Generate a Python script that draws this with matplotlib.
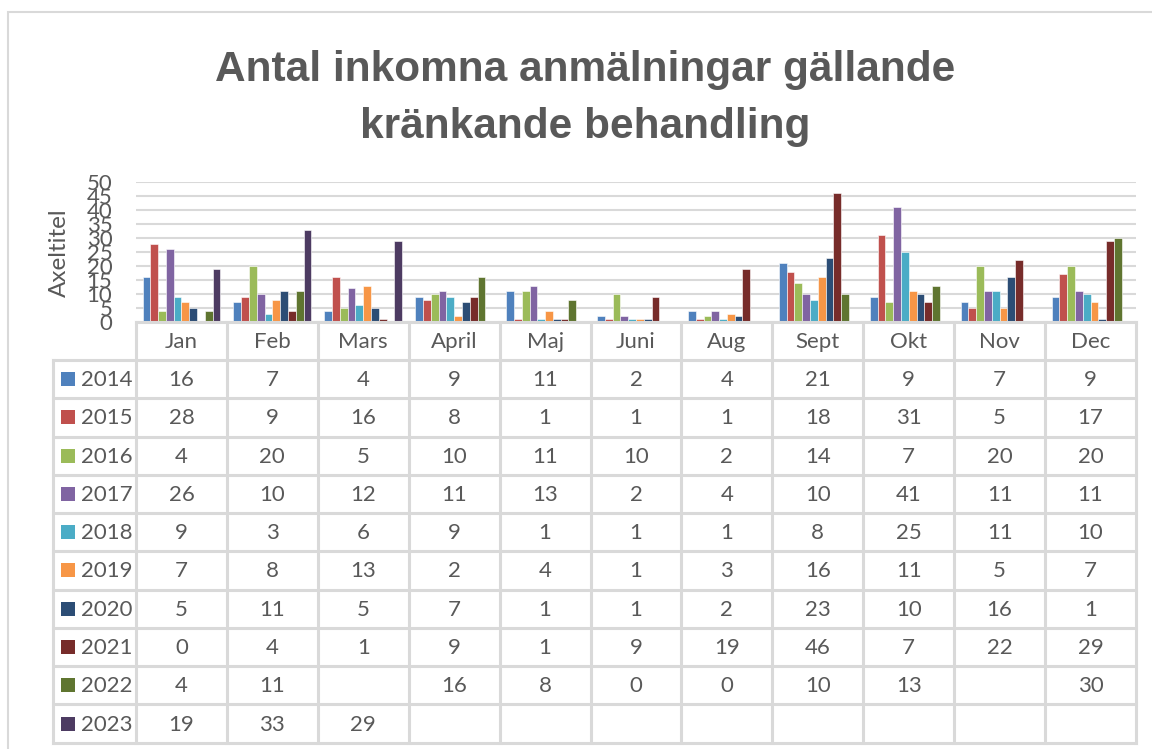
import numpy as np
import matplotlib
matplotlib.use("Agg")
import matplotlib.pyplot as plt
from matplotlib.patches import Rectangle
from matplotlib.lines import Line2D

months = ["Jan", "Feb", "Mars", "April", "Maj", "Juni", "Aug", "Sept", "Okt", "Nov", "Dec"]
years = ["2014", "2015", "2016", "2017", "2018", "2019", "2020", "2021", "2022", "2023"]
n = np.nan
v2014 = [16, 7, 4, 9, 11, 2, 4, 21, 9, 7, 9]
v2015 = [28, 9, 16, 8, 1, 1, 1, 18, 31, 5, 17]
v2016 = [4, 20, 5, 10, 11, 10, 2, 14, 7, 20, 20]
v2017 = [26, 10, 12, 11, 13, 2, 4, 10, 41, 11, 11]
v2018 = [9, 3, 6, 9, 1, 1, 1, 8, 25, 11, 10]
v2019 = [7, 8, 13, 2, 4, 1, 3, 16, 11, 5, 7]
v2020 = [5, 11, 5, 7, 1, 1, 2, 23, 10, 16, 1]
v2021 = [0, 4, 1, 9, 1, 9, 19, 46, 7, 22, 29]
v2022 = [4, 11, n, 16, 8, 0, 0, 10, 13, n, 30]
v2023 = [19, 33, 29, n, n, n, n, n, n, n, n]
series = [v2014, v2015, v2016, v2017, v2018, v2019, v2020, v2021, v2022, v2023]
colors = ["#4F81BD", "#C0504D", "#9BBB59", "#8064A2", "#4BACC6",
          "#F79646", "#2C4D75", "#772C2A", "#5F7530", "#4D3B62"]

W, H = 1152, 749
fig = plt.figure(figsize=(W / 100, H / 100), dpi=100)
TXT = "#595959"
GRID = "#D9D9D9"
FONT = "Lato"
FS = 16

def fx(x):
    return x / W

def fy(y):
    return 1 - y / H

# chart border
fig.patches.append(Rectangle((fx(8), fy(1000)), fx(1200) - fx(8), fy(12) - fy(1000),
                             transform=fig.transFigure, fill=False, edgecolor=GRID, lw=1.5))

# title
fig.text(fx(585), fy(81), "Antal inkomna anmälningar gällande", ha="center", va="baseline",
         fontsize=30.5, fontweight="bold", color=TXT, family="Liberation Sans")
fig.text(fx(585), fy(138), "kränkande behandling", ha="center", va="baseline",
         fontsize=30.5, fontweight="bold", color=TXT, family="Liberation Sans")

# plot area
x0, x1, ytop, ybot = 136, 1136, 182, 322
ax = fig.add_axes([fx(x0), fy(ybot), fx(x1) - fx(x0), fy(ytop) - fy(ybot)])
ax.set_xlim(-0.5, len(months) - 0.5)
ax.set_ylim(0, 50)
ax.set_yticks(np.arange(0, 51, 5))
ax.tick_params(axis="y", length=0, labelsize=FS, labelcolor=TXT, pad=17)
for lab in ax.get_yticklabels():
    lab.set_family(FONT)
ax.set_xticks([])
for s in ["left", "right", "top", "bottom"]:
    ax.spines[s].set_visible(False)
ax.grid(axis="y", color=GRID, lw=1.5)
ax.set_axisbelow(True)
ax.patch.set_alpha(0)

xs = np.arange(len(months))
bw = 0.0857
ns = len(series)
for i, (vals, c) in enumerate(zip(series, colors)):
    off = (i - (ns - 1) / 2) * bw
    ax.bar(xs + off, vals, width=bw, color=c, edgecolor="white", linewidth=0.4)

fig.text(fx(59), fy(253), "Axeltitel", rotation=90, ha="center", va="center",
         fontsize=17.5, color=TXT, family=FONT)

# data table
lx = 53
colw = (x1 - x0) / len(months)
hdr_top, hdr_bot = 322, 360
rowh = (742.7 - 360) / len(years)
tbl_bot = hdr_bot + rowh * len(years)

def hline(y, xa, xb):
    fig.add_artist(Line2D([fx(xa), fx(xb)], [fy(y), fy(y)], color=GRID, lw=2.2,
                          transform=fig.transFigure))

def vline(x, ya, yb):
    fig.add_artist(Line2D([fx(x), fx(x)], [fy(ya), fy(yb)], color=GRID, lw=2.2,
                          transform=fig.transFigure))

hline(hdr_top, x0, x1)
for r in range(len(years) + 1):
    hline(hdr_bot + r * rowh, lx, x1)
vline(lx, hdr_bot, tbl_bot)
for c in range(len(months) + 1):
    vline(x0 + c * colw, hdr_top, tbl_bot)

for c, m in enumerate(months):
    fig.text(fx(x0 + (c + 0.5) * colw), fy((hdr_top + hdr_bot) / 2 + 1), m, ha="center", va="center",
             fontsize=FS, color=TXT, family=FONT)

for r, (yr, vals, col) in enumerate(zip(years, series, colors)):
    yc = hdr_bot + (r + 0.5) * rowh
    fig.patches.append(Rectangle((fx(61), fy(yc + 7)), fx(14), 14 / H, transform=fig.transFigure,
                                 facecolor=col, edgecolor="none"))
    fig.text(fx(81), fy(yc + 1), yr, ha="left", va="center", fontsize=FS, color=TXT, family=FONT)
    for c, v in enumerate(vals):
        if np.isnan(v):
            continue
        fig.text(fx(x0 + (c + 0.5) * colw), fy(yc + 1), f"{int(v)}", ha="center", va="center",
                 fontsize=FS, color=TXT, family=FONT)

fig.savefig("out.png", dpi=100)
